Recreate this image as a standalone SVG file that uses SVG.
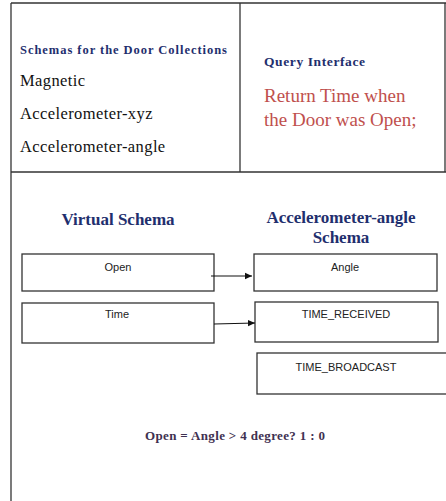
<svg xmlns="http://www.w3.org/2000/svg" width="446" height="501" viewBox="0 0 446 501">
<defs>
<style>
.frame{stroke:#333;stroke-width:1.3;fill:none}
.box{fill:#fff;stroke:#333;stroke-width:1.3}
.hdr{font-family:"Liberation Serif",serif;font-weight:bold;fill:#1f2f6e}
.blk{font-family:"Liberation Serif",serif;fill:#111;font-size:16.5px;letter-spacing:0.4px}
.red{font-family:"Liberation Serif",serif;fill:#c0504d;font-size:19px}
.lbl{font-family:"Liberation Sans",sans-serif;fill:#222;font-size:11px;text-anchor:middle}
.conn{stroke:#111;stroke-width:1.2;fill:none}
</style>
<marker id="ah" markerWidth="8" markerHeight="8" refX="7" refY="4" orient="auto" markerUnits="userSpaceOnUse">
<path d="M0,0.8 L7,4 L0,7.2 Z" fill="#111"/>
</marker>
</defs>
<rect width="446" height="501" fill="#fff"/>
<g id="frame">
<line class="frame" x1="11" y1="3" x2="446" y2="3"/>
<line class="frame" x1="11" y1="3" x2="11" y2="501"/>
<line class="frame" x1="240" y1="3" x2="240" y2="172"/>
<line class="frame" x1="445" y1="3" x2="445" y2="172"/>
<line class="frame" x1="11" y1="172" x2="446" y2="172"/>
</g>
<g id="collections">
<text class="hdr" x="20" y="54" font-size="12.5" textLength="207" lengthAdjust="spacing">Schemas for the Door Collections</text>
<text class="blk" x="20" y="86">Magnetic</text>
<text class="blk" x="20" y="119">Accelerometer-xyz</text>
<text class="blk" x="20" y="152">Accelerometer-angle</text>
</g>
<g id="query">
<text class="hdr" x="264" y="66" font-size="13.5" textLength="101" lengthAdjust="spacing">Query Interface</text>
<text class="red" x="264" y="102">Return Time when</text>
<text class="red" x="264" y="126">the Door was Open;</text>
</g>
<g id="virtual-title">
<text class="hdr" x="118" y="225" font-size="17" text-anchor="middle">Virtual Schema</text>
</g>
<g id="accel-title">
<text class="hdr" x="341" y="223" font-size="17" text-anchor="middle">Accelerometer-angle</text>
<text class="hdr" x="341" y="243" font-size="17" text-anchor="middle">Schema</text>
</g>
<g id="open">
<rect class="box" x="22" y="254" width="192" height="37"/>
<text class="lbl" x="118" y="271">Open</text>
</g>
<g id="time">
<rect class="box" x="22" y="303" width="192" height="40"/>
<text class="lbl" x="117" y="318">Time</text>
</g>
<g id="angle">
<rect class="box" x="254" y="254" width="183" height="37"/>
<text class="lbl" x="345" y="271">Angle</text>
</g>
<g id="time-received">
<rect class="box" x="255" y="302" width="183" height="40"/>
<text class="lbl" x="346" y="318">TIME_RECEIVED</text>
</g>
<g id="time-broadcast">
<rect class="box" x="257" y="353" width="192" height="41"/>
<text class="lbl" x="346" y="371">TIME_BROADCAST</text>
</g>
<g id="connectors">
<line class="conn" x1="211" y1="276" x2="252" y2="276" marker-end="url(#ah)"/>
<line class="conn" x1="214" y1="324" x2="255" y2="323" marker-end="url(#ah)"/>
</g>
<g id="formula">
<text x="145" y="440" font-family="Liberation Serif, serif" font-weight="bold" font-size="13" fill="#3f3151" textLength="180" lengthAdjust="spacing">Open = Angle &gt; 4 degree? 1 : 0</text>
</g>
</svg>
